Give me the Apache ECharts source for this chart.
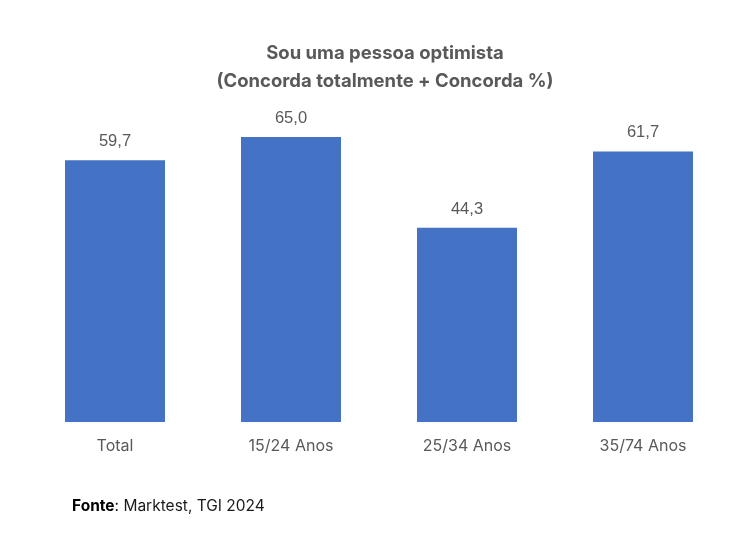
<!DOCTYPE html>
<html>
<head>
<meta charset="utf-8">
<script src="https://cdn.jsdelivr.net/npm/echarts@6/dist/echarts.min.js"></script>
<style>
html,body{margin:0;padding:0;background:#fff;}
#c{width:743px;height:548px;}
</style>
</head>
<body>
<div id="c"></div>
<script>
const categories = ['Total', '15/24 Anos', '25/34 Anos', '35/74 Anos'];
const values = [59.7, 65.0, 44.3, 61.7];
const titleLines = ['Sou uma pessoa optimista', '(Concorda totalmente + Concorda %)'];

const chart = echarts.init(document.getElementById('c'));
chart.setOption({
  animation: false,
  backgroundColor: '#ffffff',
  title: {
    text: titleLines.join('\n'),
    left: 380,
    textAlign: 'center',
    top: 34,
    textStyle: {
      fontFamily: 'Inter, Roboto, sans-serif',
      fontWeight: 'bold',
      fontSize: 18.5,
      color: '#595959',
      lineHeight: 28
    }
  },
  graphic: [{
    type: 'text',
    left: 72,
    top: 498,
    style: {
      text: '{b|Fonte}: Marktest, TGI 2024',
      rich: {
        b: { fontWeight: 'bold', fontSize: 15.5, fontFamily: 'Inter, Roboto, sans-serif', fill: '#000' }
      },
      fontSize: 15.5,
      fontFamily: 'Inter, Roboto, sans-serif',
      fill: '#1a1a1a'
    }
  }],
  grid: { left: 27, right: 12, top: 115, bottom: 126, containLabel: false },
  xAxis: {
    type: 'category',
    data: categories,
    axisLine: { show: false },
    axisTick: { show: false },
    axisLabel: {
      margin: 16,
      fontSize: 16,
      color: '#595959',
      fontFamily: 'Inter, Roboto, sans-serif'
    }
  },
  yAxis: {
    type: 'value',
    min: 0,
    max: 70,
    show: false,
    splitLine: { show: false }
  },
  series: [{
    type: 'bar',
    data: values,
    barWidth: 100,
    itemStyle: { color: '#4472C4' },
    label: {
      show: true,
      position: 'top',
      distance: 10,
      formatter: p => p.value.toFixed(1).replace('.', ','),
      fontSize: 16.5,
      color: '#595959',
      fontFamily: '"Liberation Sans", Arial, sans-serif'
    }
  }]
});
</script>
</body>
</html>
